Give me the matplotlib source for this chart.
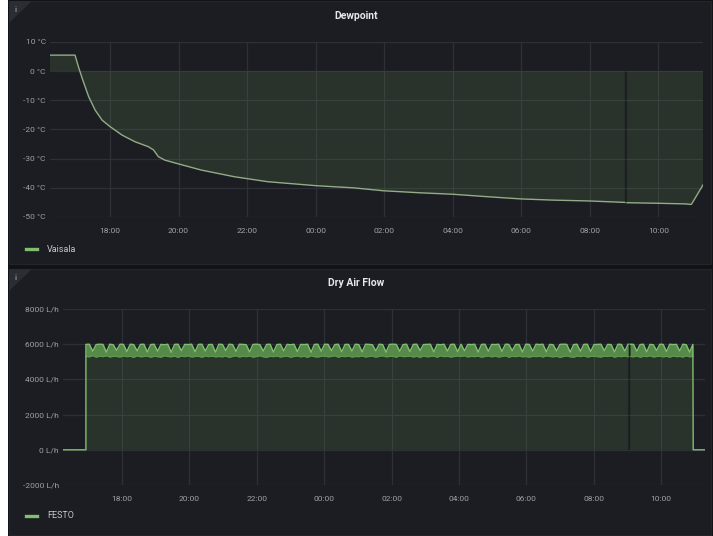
import matplotlib
matplotlib.use('Agg')
import matplotlib.pyplot as plt
import numpy as np
from matplotlib.patches import Rectangle, Polygon
from matplotlib.lines import Line2D
from matplotlib.ticker import FixedLocator, FuncFormatter

nan = np.nan

# ---------------- data ----------------
# time in hours (16:15 on day 1 .. 11:18 on day 2 -> 16.25 .. 35.3)
time_start, time_end = 16.25, 35.3
hour_ticks = [18, 20, 22, 24, 26, 28, 30, 32, 34]

dew_time = [16.25, 16.98, 17.08, 17.19, 17.38, 17.57, 17.77, 18.0, 18.35, 18.73,
            19.12, 19.27, 19.41, 19.6, 20.0, 20.66, 21.63, 22.6, 24.05, 25.1,
            25.97, 27.04, 28.0, 28.96, 29.98, 30.9, 31.98, 33.02, 33.05, 33.08,
            34.0, 34.76, 34.96, 35.3]
dew_vals = [5.5, 5.5, 1.5, -2.5, -8.8, -13.4, -16.8, -19.0, -21.9, -24.2,
            -25.9, -27.0, -29.3, -30.5, -31.8, -33.9, -36.2, -37.9, -39.3, -40.0,
            -41.0, -41.7, -42.2, -43.0, -43.8, -44.2, -44.5, -45.0, nan, -45.1,
            -45.3, -45.5, -45.7, -39.0]
dew_ticks = [10, 0, -10, -20, -30, -40, -50]

# flow: off before/after, and a fast-oscillating "on" period shown by its
# upper and lower envelope
flow_off_before = [(16.25, 0), (16.93, 0)]
flow_on_a_start, flow_on_a_end = 16.93, 33.02
flow_gap_time = 33.05
flow_on_b_start, flow_on_b_end = 33.08, 34.94
flow_off_after = [(34.95, 0), (35.3, 0)]

flow_upper_a = [
    5990, 6000, 5600, 5980, 6000, 5990, 5550, 6000, 5970, 5650,
    6000, 5990, 5580, 6000, 5980, 5620, 5990, 6000, 5560, 5980,
    6000, 5600, 5990, 5970, 6000, 5540, 5990, 6000, 5630, 5990,
    5980, 6000, 5570, 5990, 6000, 5610, 5980, 5990, 5550, 6000,
    5990, 5640, 6000, 5980, 5590, 6000, 5990, 5970, 5560, 5990,
    6000, 5980, 5610, 5990, 6000, 5550, 5980, 6000, 5620, 5990,
    5970, 6000, 5580, 5990, 5980, 6000, 5540, 5990, 6000, 5600,
    6000, 5990, 5630, 5980, 6000, 5570, 5990, 5990, 5610, 6000,
    5980, 5560, 6000, 5990, 5970, 5620, 6000, 5980, 5550, 5990,
    6000, 5990, 5600, 5980, 6000, 5580, 5990, 6000, 5640, 5980,
    5990, 6000, 5560, 5990, 5970, 6000, 5610, 5990, 6000, 5570,
    6000, 5620, 5990, 5980, 6000, 5550, 5990, 6000, 5600, 5990,
    5980, 6000, 5590, 6000, 5990, 5630, 5980, 5990, 5560, 6000,
    5990, 5610, 6000, 5980, 6000, 5570, 5990, 5970, 5620, 5990,
    6000, 5990, 5550, 5980, 6000, 5600, 5990, 6000, 5580, 5980,
    5990, 6000, 5630, 5990, 5980, 5560, 6000, 5990, 5610, 6000,
]
flow_lower_a = [
    5300, 5280, 5350, 5260, 5320, 5290, 5340, 5270, 5310, 5300,
    5270, 5330, 5290, 5310, 5250, 5340, 5280, 5300, 5320, 5260,
    5310, 5290, 5260, 5340, 5300, 5280, 5320, 5250, 5330, 5290,
    5340, 5270, 5300, 5310, 5260, 5330, 5290, 5320, 5280, 5300,
    5280, 5320, 5250, 5300, 5340, 5270, 5310, 5290, 5330, 5260,
    5300, 5340, 5280, 5260, 5310, 5290, 5330, 5270, 5300, 5320,
    5260, 5300, 5330, 5280, 5310, 5250, 5340, 5290, 5270, 5310,
    5320, 5280, 5300, 5340, 5260, 5310, 5290, 5330, 5270, 5300,
    5290, 5330, 5270, 5300, 5320, 5260, 5310, 5340, 5280, 5300,
    5310, 5260, 5340, 5290, 5300, 5320, 5270, 5310, 5250, 5330,
    5280, 5300, 5320, 5260, 5340, 5290, 5310, 5270, 5300, 5330,
    5300, 5340, 5270, 5310, 5290, 5320, 5260, 5300, 5330, 5280,
    5320, 5270, 5300, 5340, 5260, 5310, 5290, 5330, 5280, 5300,
    5260, 5310, 5290, 5320, 5270, 5340, 5300, 5280, 5310, 5250,
    5300, 5330, 5280, 5260, 5320, 5290, 5340, 5270, 5300, 5310,
    5290, 5270, 5320, 5300, 5340, 5260, 5310, 5290, 5330, 5280,
]
flow_upper_b = [
    6000, 5990, 5600, 5980, 6000, 5560, 5990, 5970, 5640, 6000,
    5990, 5580, 6000, 5980, 5990, 5620, 6000, 5970, 5550, 5990,
]
flow_lower_b = [
    5300, 5280, 5330, 5260, 5310, 5290, 5340, 5270, 5300, 5320,
    5280, 5310, 5260, 5330, 5290, 5300, 5270, 5340, 5280, 5310,
]
flow_ticks = [8000, 6000, 4000, 2000, 0, -2000]

# ---------------- style ----------------
W, H = 713, 536
BG_PANEL = '#1b1d22'
BG_GAP = '#111216'
GRID = '#2d3036'
TXT = '#9ea1a6'
TITLE = '#e6e7e9'
DEW_LINE = '#93ac88'
FLOW_LINE = '#80bf6f'
BAND = '#5f9a50'
FILL = '#6f9a5c'

plt.rcParams['font.family'] = ['Roboto', 'DejaVu Sans']

fig = plt.figure(figsize=(W / 100, H / 100), dpi=100, facecolor=BG_GAP)


def fx(px):
    return px / W


def fy(py):
    return 1 - py / H


# white strip at left
fig.patches.append(Rectangle((0, 0), fx(8), 1, transform=fig.transFigure,
                             facecolor='white', edgecolor='none', zorder=-10))
# panels
for top, bot in [(1, 264), (269, 535)]:
    fig.patches.append(Rectangle((fx(9), fy(bot)), fx(711) - fx(9), (bot - top) / H,
                                 transform=fig.transFigure, facecolor=BG_PANEL,
                                 edgecolor='#23252b', lw=0.8, zorder=-10))
    fig.patches.append(Polygon([[fx(9), fy(top)], [fx(32), fy(top)], [fx(9), fy(top + 22)]],
                               closed=True, transform=fig.transFigure,
                               facecolor='#2a2d33', edgecolor='none', zorder=-9))
    fig.text(fx(16), fy(top + 9), 'i', color='#8c8f94', fontsize=5.5,
             ha='center', va='center', fontweight='bold')


def hfmt(v, pos):
    return '%02d:00' % (int(round(v)) % 24)


def style_axes(ax, yticks, ylim, yfmt):
    ax.set_facecolor(BG_PANEL)
    ax.set_xlim(time_start, time_end)
    ax.set_ylim(*ylim)
    ax.xaxis.set_major_locator(FixedLocator(hour_ticks))
    ax.xaxis.set_major_formatter(FuncFormatter(hfmt))
    ax.yaxis.set_major_locator(FixedLocator(yticks))
    ax.yaxis.set_major_formatter(FuncFormatter(yfmt))
    ax.grid(True, color=GRID, lw=0.9)
    ax.set_axisbelow(True)
    for s in ax.spines.values():
        s.set_visible(False)
    ax.tick_params(length=0, colors=TXT, labelsize=6)
    ax.tick_params(axis='x', pad=8)
    ax.tick_params(axis='y', pad=3)


# ---------- Dewpoint ----------
ax1 = fig.add_axes([fx(50), fy(217), fx(703) - fx(50), (217 - 42) / H])
style_axes(ax1, dew_ticks, (-50, 10), lambda v, p: '%d °C' % v)
dt = np.array(dew_time)
dv = np.array(dew_vals)
ax1.fill_between(dt, dv, 0, color=FILL, alpha=0.17, lw=0)
ax1.plot(dt, dv, color=DEW_LINE, lw=1.0)
fig.text(0.5, fy(16), 'Dewpoint', color=TITLE, fontsize=7.5, fontweight='bold',
         ha='center', va='center')
fig.lines.append(Line2D([fx(26), fx(37)], [fy(249), fy(249)], transform=fig.transFigure,
                        color=FLOW_LINE, lw=2.4))
fig.text(fx(47), fy(249), 'Vaisala', color='#c4c6c9', fontsize=6.5, va='center')

# ---------- Dry Air Flow ----------
ax2 = fig.add_axes([fx(63), fy(485), fx(705) - fx(63), (485 - 309) / H])
style_axes(ax2, flow_ticks, (-2000, 8000), lambda v, p: '%d L/h' % v)
ta = np.linspace(flow_on_a_start, flow_on_a_end, len(flow_upper_a))
tb = np.linspace(flow_on_b_start, flow_on_b_end, len(flow_upper_b))
ft = np.concatenate([[p[0] for p in flow_off_before], ta, [flow_gap_time], tb,
                     [p[0] for p in flow_off_after]])
fu = np.concatenate([[p[1] for p in flow_off_before], flow_upper_a, [nan], flow_upper_b,
                     [p[1] for p in flow_off_after]])
ax2.fill_between(ft, fu, 0, color=FILL, alpha=0.17, lw=0)
for t, up, lo in [(ta, flow_upper_a, flow_lower_a), (tb, flow_upper_b, flow_lower_b)]:
    ax2.fill_between(t, lo, up, color=BAND, alpha=0.85, lw=0)
    ax2.plot(t, lo, color=BAND, lw=0.8)
ax2.plot(ft, fu, color=FLOW_LINE, lw=1.0)
fig.text(0.5, fy(283), 'Dry Air Flow', color=TITLE, fontsize=7.5, fontweight='bold',
         ha='center', va='center')
fig.lines.append(Line2D([fx(26), fx(37)], [fy(516), fy(516)], transform=fig.transFigure,
                        color=FLOW_LINE, lw=2.4))
fig.text(fx(47), fy(516), 'FESTO', color='#c4c6c9', fontsize=6.5, va='center')

fig.savefig('out.png', dpi=100, facecolor=fig.get_facecolor())
